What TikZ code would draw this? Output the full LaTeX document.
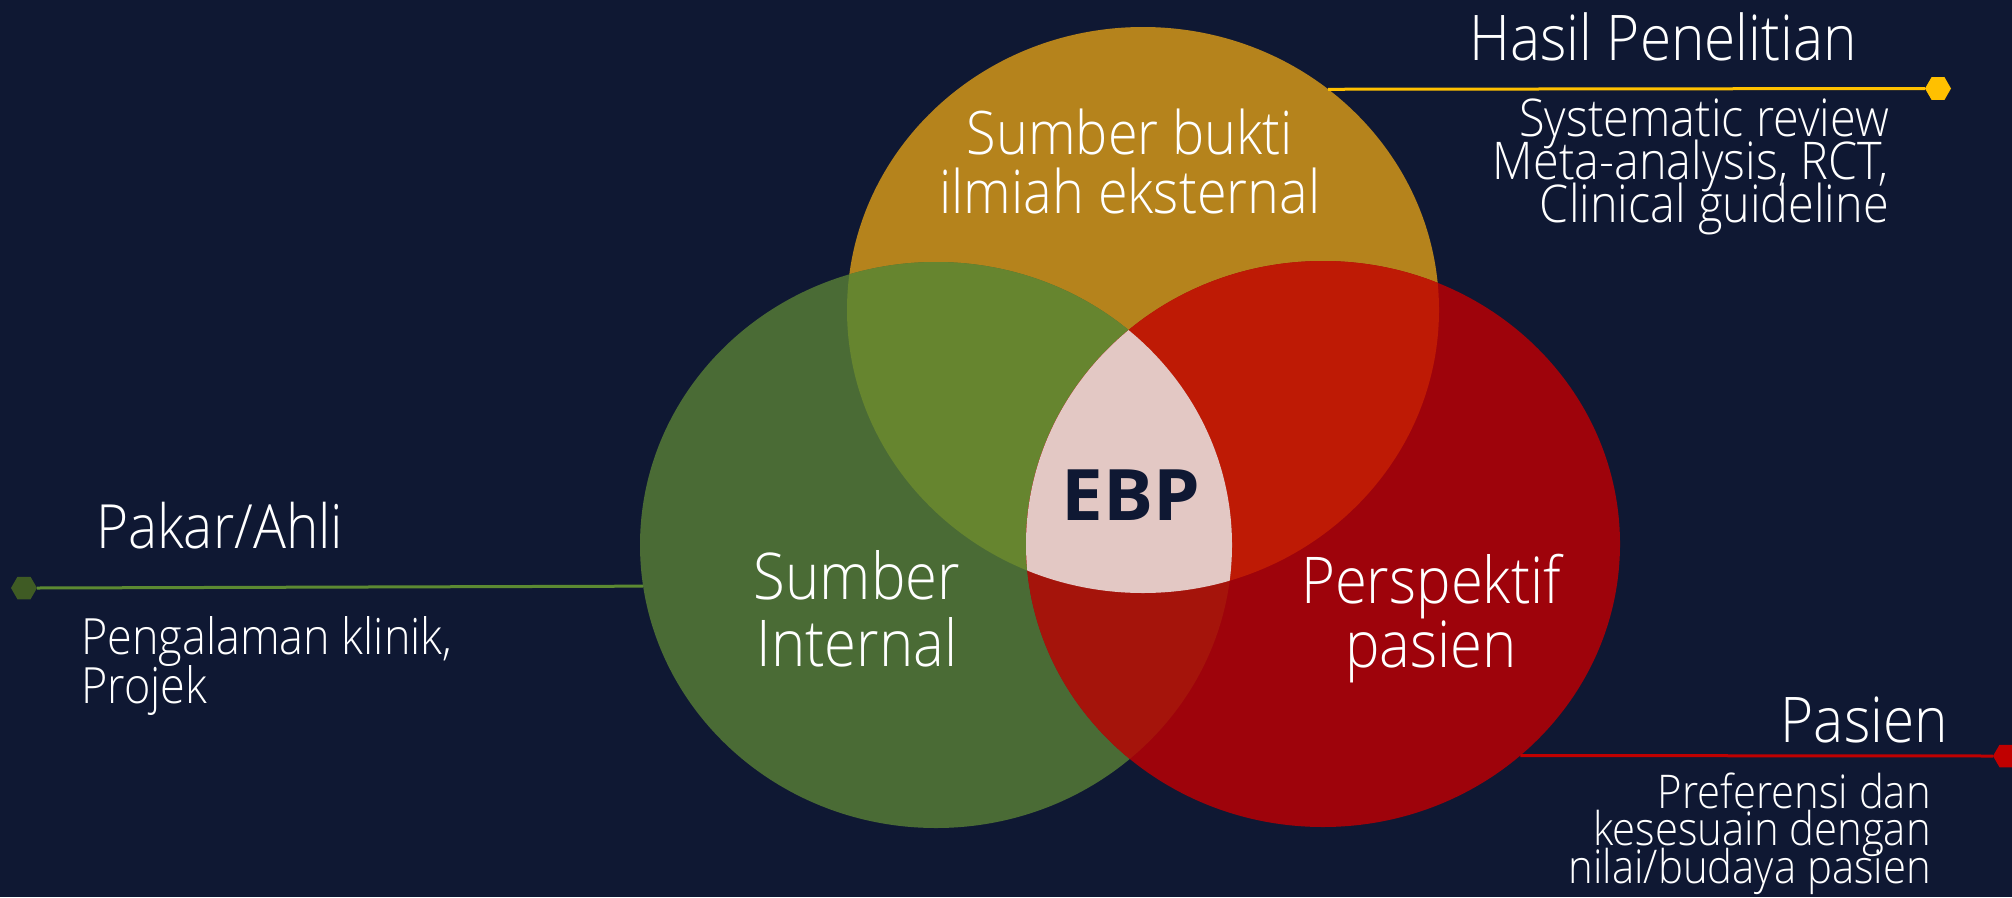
\documentclass[tikz,border=0pt]{standalone}
\usepackage{fontspec}
\setmainfont{Open Sans}[UprightFont=* Light, FakeStretch=0.9]
\newfontfamily\corefont{Open Sans}[UprightFont=* Bold, FakeStretch=1.05]
\usetikzlibrary{shapes.geometric}

\definecolor{bg}{HTML}{0F1833}
\definecolor{gold}{HTML}{B5831C}
\definecolor{leaf}{HTML}{4A6B35}
\definecolor{crimson}{HTML}{9E030B}
\definecolor{goldleaf}{HTML}{66852F}
\definecolor{goldcrimson}{HTML}{BE1A05}
\definecolor{leafcrimson}{HTML}{A5140B}
\definecolor{core}{HTML}{E3C8C4}
\definecolor{amber}{HTML}{FFC000}
\definecolor{hexgreen}{HTML}{3F5B24}
\definecolor{linegreen}{HTML}{5C8A32}
\definecolor{scarlet}{HTML}{C00000}

\newcommand{\extpath}{(1143,310) ellipse [x radius=296pt, y radius=283pt]}
\newcommand{\intpath}{(936,545) ellipse [x radius=296pt, y radius=283pt]}
\newcommand{\patpath}{(1323,544) ellipse [x radius=297pt, y radius=283pt]}

% font size and fixed line pitch for the multi-line labels
\newcommand{\sizeskip}[2]{\fontsize{#1}{#2}\selectfont\lineskiplimit=-1000pt\relax}

\begin{document}
\begin{tikzpicture}[x=1pt, y=-1pt,
  venn/.style={ellipse, minimum height=566pt, inner sep=0pt, outer sep=0pt},
  hexdot/.style={regular polygon, regular polygon sides=6, minimum size=26pt, inner sep=0pt, outer sep=0pt},
  link/.style={line width=3pt},
  txt/.style={text=white, inner sep=0pt},
  heading/.style={txt, font=\sizeskip{63}{70}},
  core label/.style={text=bg, inner sep=0pt, font=\corefont\sizeskip{71}{76}}]

% canvas
\fill[bg] (0,0) rectangle (2012,897);
\useasboundingbox (0,0) rectangle (2012,897);

% the three sets
\node[venn, minimum width=592pt, fill=gold]    (ext) at (1143,310) {};
\node[venn, minimum width=592pt, fill=leaf]    (int) at (936,545) {};
\node[venn, minimum width=594pt, fill=crimson] (pat) at (1323,544) {};

% pairwise overlaps
\begin{scope}
  \clip \extpath;
  \fill[goldleaf] \intpath;
  \fill[goldcrimson] \patpath;
\end{scope}
\begin{scope}
  \clip \intpath;
  \clip \patpath;
  \fill[leafcrimson] (700,300) rectangle (1600,897);
\end{scope}
% common core
\begin{scope}
  \clip \extpath;
  \clip \intpath;
  \fill[core] \patpath;
\end{scope}

% callout markers and leader lines
\node[hexdot, fill=amber]    (hy) at (1938,88.5) {};
\node[hexdot, fill=hexgreen] (hg) at (24,588) {};
\node[hexdot, fill=scarlet]  (hr) at (2006,756) {};
\draw[link, amber]     (hy.west) -- (ext.50.3);
\draw[link, linegreen] (hg.east) -- (int.188.9);
\draw[link, scarlet]   (hr.west) -- (pat.313);

% labels inside the sets (base = baseline of the last line)
\node[txt, anchor=base, align=center, font=\sizeskip{60}{59}] (elabel) at (1130,213)
  {Sumber bukti\\ilmiah eksternal};
\node[txt, anchor=base, align=center, font=\sizeskip{64.5}{67}] (ilabel) at (857,666)
  {Sumber\\Internal};
\node[txt, anchor=base, align=center, font=\sizeskip{64.5}{64}] (plabel) at (1431,667)
  {Perspektif\\pasien};
\node[core label, anchor=base] (ebp) at (1131,520) {EBP};

% research callout
\node[heading, anchor=base east] (hasil) at (1857,60) {Hasil Penelitian};
\node[txt, anchor=base east, align=right, font=\sizeskip{52}{43}] (hdetail) at (1889,222)
  {Systematic review\\Meta-analysis, RCT,\\Clinical guideline};

% expert callout
\node[txt, anchor=base west, font=\sizeskip{61}{70}] (pakar) at (96,548) {Pakar/Ahli};
\node[txt, anchor=base west, align=left, font=\sizeskip{50}{49}] (kdetail) at (81,703)
  {Pengalaman klinik,\\Projek};

% patient callout
\node[heading, anchor=base east] (pasien) at (1948,742) {Pasien};
\node[txt, anchor=base east, align=right, font=\sizeskip{46.5}{37.5}] (sdetail) at (1931,883)
  {Preferensi dan\\kesesuain dengan\\nilai/budaya pasien};
\end{tikzpicture}
\end{document}
